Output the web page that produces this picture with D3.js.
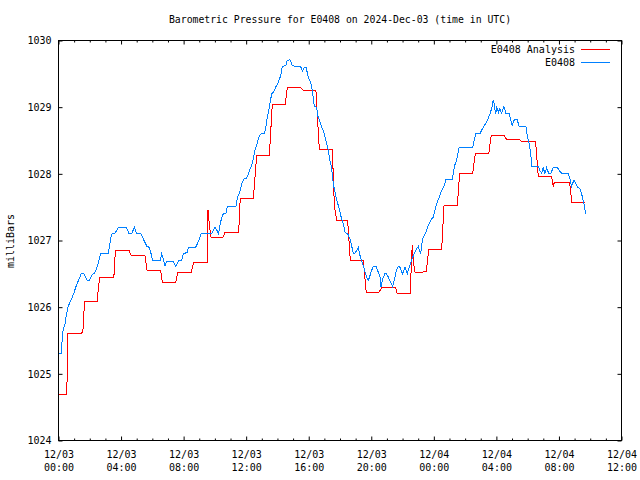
<!DOCTYPE html>
<html>
<head>
<meta charset="utf-8">
<script src="https://cdn.jsdelivr.net/npm/d3@7"></script>
<style>
  html, body { margin: 0; padding: 0; background: #fff; }
  svg { display: block; }
  text { font-family: "DejaVu Sans Mono", "Liberation Mono", monospace; font-size: 10px; fill: #000; }
</style>
</head>
<body>
<svg id="chart" width="640" height="480"></svg>
<script>
// ---- data (hours since 2024-12-03 00:00 UTC, millibars) ----
const chartTitle = "Barometric Pressure for E0408 on 2024-Dec-03 (time in UTC)";
const yLabel = "milliBars";
const seriesNames = ["E0408 Analysis", "E0408"];
const seriesColors = ["#ff0000", "#0080ff"];
const yTicks = [1024, 1025, 1026, 1027, 1028, 1029, 1030];
const xMajorHours = [0, 4, 8, 12, 16, 20, 24, 28, 32, 36];
const xTickDates = ["12/03", "12/03", "12/03", "12/03", "12/03", "12/03", "12/04", "12/04", "12/04", "12/04"];
const xTickTimes = ["00:00", "04:00", "08:00", "12:00", "16:00", "20:00", "00:00", "04:00", "08:00", "12:00"];

const analysisData = [
  [0, 1024.69], [0.52, 1024.69], [0.55, 1024.92], [0.6, 1025.6], [1.48, 1025.6], [1.6, 1025.70], [1.65, 1026.09],
  [2.48, 1026.09], [2.55, 1026.3], [2.65, 1026.45], [3.53, 1026.45], [3.58, 1026.55], [3.63, 1026.85],
  [4.51, 1026.85], [4.65, 1026.77], [5.53, 1026.77], [5.66, 1026.55], [6.53, 1026.55], [6.64, 1026.37],
  [7.49, 1026.37], [7.62, 1026.52], [8.49, 1026.52], [8.64, 1026.67], [9.51, 1026.67], [9.54, 1026.86],
  [9.56, 1027.45], [9.62, 1027.3], [9.66, 1027.2], [9.75, 1027.05], [10.5, 1027.04], [10.65, 1027.12],
  [11.52, 1027.12], [11.62, 1027.63], [12.46, 1027.63], [12.67, 1028.27], [13.48, 1028.27], [13.67, 1029.04],
  [14.5, 1029.04], [14.63, 1029.29], [15.49, 1029.29], [15.65, 1029.25], [16.46, 1029.25], [16.68, 1028.36],
  [17.51, 1028.36], [17.64, 1027.52], [17.79, 1027.30], [18.49, 1027.30], [18.66, 1026.70], [19.49, 1026.70],
  [19.68, 1026.22], [20.49, 1026.22], [20.66, 1026.29], [21.56, 1026.29], [21.66, 1026.2], [22.49, 1026.2],
  [22.52, 1026.4], [22.62, 1026.93], [22.68, 1026.7], [22.8, 1026.52], [23.52, 1026.53], [23.67, 1026.86],
  [24.5, 1026.86], [24.65, 1027.52], [25.5, 1027.52], [25.65, 1028.0], [26.48, 1028.0], [26.65, 1028.30],
  [27.51, 1028.30], [27.67, 1028.58], [28.5, 1028.58], [28.66, 1028.51], [29.5, 1028.51], [29.65, 1028.48],
  [30.51, 1028.48], [30.68, 1027.96], [31.53, 1027.96], [31.64, 1027.81], [31.7, 1027.87], [32.68, 1027.87],
  [32.83, 1027.57], [33.68, 1027.57]
];

const observedData = [
  [0, 1025.30], [0.16, 1025.30], [0.245, 1025.535], [0.29, 1025.65], [0.35, 1025.70], [0.42, 1025.75],
  [0.48, 1025.85], [0.56, 1025.95], [0.63, 1026.02], [0.71, 1026.06], [0.80, 1026.11], [0.88, 1026.15],
  [0.97, 1026.20], [1.05, 1026.26], [1.12, 1026.31], [1.20, 1026.35], [1.27, 1026.40], [1.35, 1026.44],
  [1.44, 1026.50], [1.63, 1026.50], [1.74, 1026.44], [1.84, 1026.40], [1.97, 1026.40], [2.06, 1026.44],
  [2.16, 1026.49], [2.29, 1026.51], [2.38, 1026.55], [2.46, 1026.60], [2.55, 1026.66], [2.61, 1026.725],
  [2.70, 1026.80], [3.19, 1026.80], [3.25, 1026.90], [3.34, 1027.04], [3.42, 1027.10], [3.61, 1027.11],
  [3.74, 1027.16], [3.83, 1027.20], [4.32, 1027.20], [4.42, 1027.16], [4.51, 1027.10], [4.68, 1027.10],
  [4.78, 1027.16], [4.85, 1027.20], [4.93, 1027.14], [5.02, 1027.10], [5.27, 1027.10], [5.36, 1027.06],
  [5.45, 1027.01], [5.57, 1026.95], [5.66, 1026.91], [5.79, 1026.90], [5.87, 1026.85], [5.96, 1026.76],
  [6.02, 1026.70], [6.51, 1026.70], [6.60, 1026.80], [6.70, 1026.725], [6.81, 1026.625], [6.92, 1026.69],
  [7.34, 1026.69], [7.41, 1026.65], [7.49, 1026.61], [7.60, 1026.66], [7.70, 1026.70], [7.87, 1026.70],
  [7.98, 1026.80], [8.26, 1026.825], [8.30, 1026.90], [8.77, 1026.90], [8.90, 1026.96], [8.98, 1027.01],
  [9.11, 1027.10], [9.79, 1027.10], [9.92, 1027.16], [10.01, 1027.20], [10.16, 1027.14], [10.24, 1027.10],
  [10.30, 1027.20], [10.39, 1027.30], [10.48, 1027.375], [10.54, 1027.40], [10.71, 1027.41], [10.80, 1027.51],
  [11.35, 1027.51], [11.44, 1027.65], [11.54, 1027.70], [11.61, 1027.74], [11.75, 1027.875], [11.86, 1027.925],
  [12.03, 1027.935], [12.14, 1028.00], [12.24, 1028.075], [12.35, 1028.125], [12.46, 1028.225], [12.56, 1028.35],
  [12.71, 1028.46], [12.84, 1028.575], [12.95, 1028.60], [13.14, 1028.60], [13.25, 1028.675], [13.31, 1028.80],
  [13.42, 1028.925], [13.52, 1029.05], [13.63, 1029.20], [13.74, 1029.225], [13.89, 1029.30], [14.06, 1029.375],
  [14.21, 1029.475], [14.31, 1029.61], [14.53, 1029.625], [14.63, 1029.70], [14.80, 1029.71], [14.95, 1029.625],
  [15.12, 1029.61], [15.48, 1029.61], [15.61, 1029.54], [15.72, 1029.60], [15.83, 1029.60], [15.97, 1029.45],
  [16.15, 1029.35], [16.23, 1029.25], [16.30, 1029.11], [16.36, 1029.01], [16.51, 1029.00], [16.57, 1028.875],
  [16.72, 1028.78], [16.83, 1028.70], [16.97, 1028.625], [17.10, 1028.50], [17.25, 1028.35], [17.36, 1028.20],
  [17.46, 1028.10], [17.57, 1027.85], [17.68, 1027.725], [17.78, 1027.625], [17.89, 1027.525], [18.00, 1027.425],
  [18.10, 1027.325], [18.21, 1027.25], [18.32, 1027.125], [18.49, 1027.10], [18.64, 1027.025], [18.74, 1026.925],
  [18.85, 1026.81], [18.96, 1026.81], [19.06, 1026.85], [19.17, 1026.90], [19.28, 1026.775], [19.38, 1026.70],
  [19.49, 1026.625], [19.60, 1026.525], [19.70, 1026.45], [19.81, 1026.40], [19.92, 1026.475], [20.02, 1026.55],
  [20.13, 1026.61], [20.30, 1026.61], [20.45, 1026.525], [20.56, 1026.45], [20.62, 1026.30], [20.73, 1026.425],
  [20.87, 1026.50], [20.98, 1026.50], [21.09, 1026.45], [21.19, 1026.40], [21.36, 1026.31], [21.51, 1026.45],
  [21.62, 1026.56], [21.73, 1026.61], [21.83, 1026.60], [22.00, 1026.50], [22.15, 1026.60], [22.30, 1026.50],
  [22.43, 1026.60], [22.58, 1026.70], [22.69, 1026.775], [22.79, 1026.825], [22.90, 1026.875], [23.01, 1026.91],
  [23.16, 1026.80], [23.22, 1026.925], [23.32, 1027.05], [23.49, 1027.125], [23.64, 1027.225], [23.79, 1027.30],
  [23.96, 1027.35], [24.09, 1027.475], [24.22, 1027.575], [24.35, 1027.65], [24.50, 1027.75], [24.64, 1027.81],
  [24.77, 1027.91], [25.16, 1027.91], [25.24, 1028.00], [25.33, 1028.125], [25.45, 1028.20], [25.62, 1028.40],
  [26.48, 1028.40], [26.56, 1028.475], [26.67, 1028.60], [26.95, 1028.60], [27.07, 1028.66], [27.20, 1028.71],
  [27.33, 1028.76], [27.46, 1028.825], [27.59, 1028.90], [27.69, 1028.975], [27.76, 1029.05], [27.80, 1029.11],
  [27.86, 1029.05], [27.95, 1028.90], [28.03, 1029.00], [28.14, 1028.925], [28.22, 1028.975], [28.33, 1028.91],
  [28.48, 1029.01], [28.61, 1028.91], [28.82, 1028.90], [28.91, 1028.81], [29.01, 1028.725], [29.14, 1028.81],
  [29.33, 1028.81], [29.46, 1028.71], [29.89, 1028.71], [29.97, 1028.575], [30.10, 1028.45], [30.19, 1028.31],
  [30.27, 1028.11], [30.68, 1028.11], [30.78, 1028.05], [30.89, 1028.01], [30.99, 1028.09], [31.10, 1028.01],
  [31.21, 1028.09], [31.34, 1028.01], [31.49, 1028.01], [31.64, 1028.10], [31.89, 1028.10], [32.02, 1028.05],
  [32.17, 1028.01], [32.59, 1028.01], [32.70, 1027.925], [32.81, 1027.81], [32.96, 1027.91], [33.08, 1027.85],
  [33.19, 1027.80], [33.34, 1027.775], [33.45, 1027.70], [33.55, 1027.60], [33.64, 1027.50], [33.70, 1027.40]
];

// ---- layout ----
const L = 58.5, R = 621.5, T = 40.5, B = 440.5;
const svg = d3.select("#chart");

const x = d3.scaleLinear().domain([0, 36]).range([L, R]);
const y = d3.scaleLinear().domain([1024, 1030]).range([B, T]);
const minorHours = d3.range(0, 37).filter(h => h % 4 !== 0);

// title
svg.append("text").attr("x", 340).attr("y", 23).attr("text-anchor", "middle")
  .style("font-size", "9.8px").text(chartTitle);

// y label
svg.append("text").attr("transform", "translate(14,241) rotate(-90)")
  .attr("text-anchor", "middle").text(yLabel);

function cleanAxis(g) { g.select(".domain").remove(); g.selectAll("line").attr("stroke", "#000"); }

// left y axis
svg.append("g").attr("transform", `translate(${L},0)`)
  .call(d3.axisLeft(y).tickValues(yTicks).tickSizeInner(-4).tickSizeOuter(0).tickPadding(7).tickFormat(d3.format("d")))
  .call(cleanAxis)
  .call(g => g.selectAll("text").style("font-family", "DejaVu Sans Mono").style("font-size", "10px"));
// right y ticks (mirror)
svg.append("g").attr("transform", `translate(${R},0)`)
  .call(d3.axisRight(y).tickValues(yTicks).tickSizeInner(-4).tickSizeOuter(0).tickFormat(""))
  .call(cleanAxis);

// bottom major
const bottom = svg.append("g").attr("transform", `translate(0,${B})`)
  .call(d3.axisBottom(x).tickValues(xMajorHours).tickSizeInner(-4).tickSizeOuter(0).tickFormat(""))
  .call(cleanAxis);
bottom.selectAll(".tick").append("text")
  .attr("text-anchor", "middle").attr("fill", "#000")
  .style("font-family", "DejaVu Sans Mono").style("font-size", "10px")
  .each(function(d, i) {
    const t = d3.select(this);
    t.append("tspan").attr("x", 0).attr("y", 17).text(xTickDates[i]);
    t.append("tspan").attr("x", 0).attr("y", 30).text(xTickTimes[i]);
  });
// bottom minor
svg.append("g").attr("transform", `translate(0,${B})`)
  .call(d3.axisBottom(x).tickValues(minorHours).tickSizeInner(-2).tickSizeOuter(0).tickFormat(""))
  .call(cleanAxis);
// top mirror
svg.append("g").attr("transform", `translate(0,${T})`)
  .call(d3.axisTop(x).tickValues(xMajorHours).tickSizeInner(-4).tickSizeOuter(0).tickFormat(""))
  .call(cleanAxis);
svg.append("g").attr("transform", `translate(0,${T})`)
  .call(d3.axisTop(x).tickValues(minorHours).tickSizeInner(-2).tickSizeOuter(0).tickFormat(""))
  .call(cleanAxis);

// series
const line = d3.line().x(d => x(d[0])).y(d => y(d[1]));
svg.append("path").datum(analysisData).attr("d", line)
  .attr("fill", "none").attr("stroke", seriesColors[0]).attr("stroke-width", 1)
  .attr("shape-rendering", "crispEdges");
svg.append("path").datum(observedData).attr("d", line)
  .attr("fill", "none").attr("stroke", seriesColors[1]).attr("stroke-width", 1)
  .attr("shape-rendering", "crispEdges");

// frame
svg.append("rect").attr("x", L).attr("y", T).attr("width", R - L).attr("height", B - T)
  .attr("fill", "none").attr("stroke", "#000").attr("stroke-width", 1);

// legend
seriesNames.forEach((name, i) => {
  const yy = 49.5 + i * 13;
  svg.append("text").attr("x", 575).attr("y", yy + 3.5).attr("text-anchor", "end").text(name);
  svg.append("line").attr("x1", 581).attr("x2", 610).attr("y1", yy).attr("y2", yy)
    .attr("stroke", seriesColors[i]).attr("stroke-width", 1);
});
</script>
</body>
</html>
